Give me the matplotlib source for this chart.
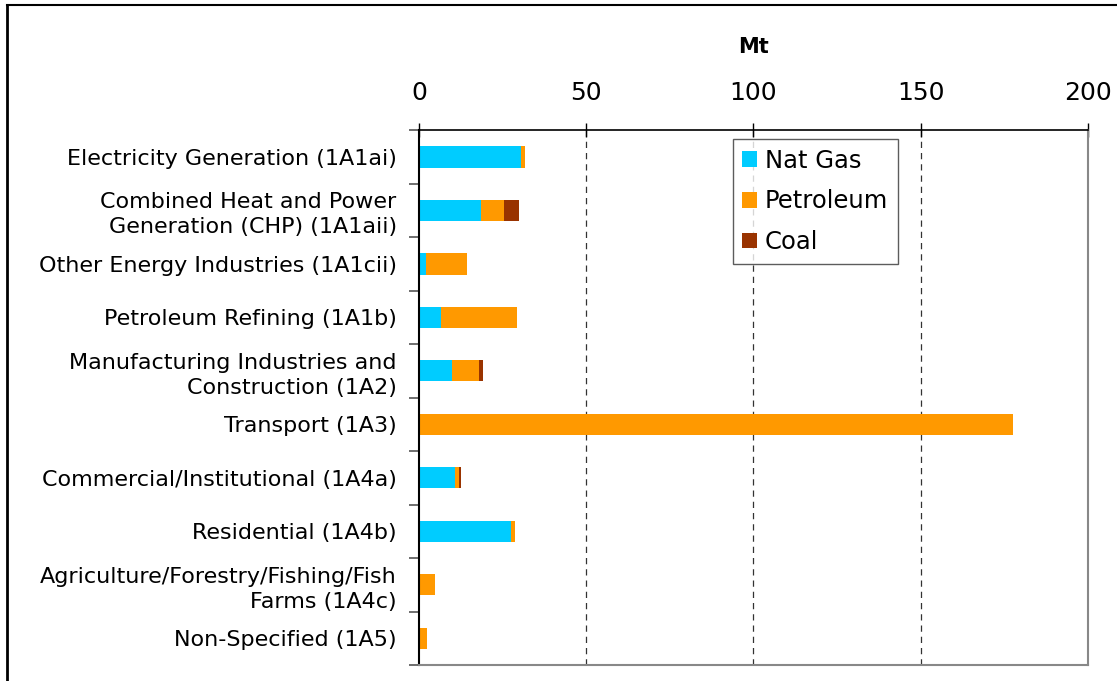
import numpy as np
import matplotlib
matplotlib.use("Agg")
import matplotlib.pyplot as plt
from matplotlib.lines import Line2D

categories = [
    "Electricity Generation (1A1ai)",
    "Combined Heat and Power\nGeneration (CHP) (1A1aii)",
    "Other Energy Industries (1A1cii)",
    "Petroleum Refining (1A1b)",
    "Manufacturing Industries and\nConstruction (1A2)",
    "Transport (1A3)",
    "Commercial/Institutional (1A4a)",
    "Residential (1A4b)",
    "Agriculture/Forestry/Fishing/Fish\nFarms (1A4c)",
    "Non-Specified (1A5)",
]
nat_gas = [30.5, 18.5, 2.0, 6.6, 9.9, 0.0, 10.8, 27.5, 0.0, 0.0]
petroleum = [1.2, 6.9, 12.3, 22.7, 8.0, 177.6, 1.2, 1.2, 4.8, 2.4]
coal = [0.0, 4.5, 0.0, 0.0, 1.2, 0.0, 0.6, 0.0, 0.0, 0.0]
x_ticks = [0, 50, 100, 150, 200]

colors = {"Nat Gas": "#00CCFF", "Petroleum": "#FF9900", "Coal": "#993300"}


def main():
    fig = plt.figure(figsize=(11.17, 6.81), dpi=100)
    ax = fig.add_axes([0.375, 0.0235, 0.599, 0.7855])

    y = np.arange(len(categories))
    gas = np.array(nat_gas)
    pet = np.array(petroleum)
    cl = np.array(coal)
    h = 0.4
    ax.barh(y, gas, height=h, color=colors["Nat Gas"], label="Nat Gas")
    ax.barh(y, pet, left=gas, height=h, color=colors["Petroleum"], label="Petroleum")
    ax.barh(y, cl, left=gas + pet, height=h, color=colors["Coal"], label="Coal")

    ax.set_xlim(0, 200)
    ax.set_ylim(len(categories) - 0.5, -0.5)

    ax.xaxis.tick_top()
    ax.xaxis.set_label_position("top")
    ax.set_xticks(x_ticks)
    ax.set_xticklabels([str(t) for t in x_ticks], fontsize=18)
    ax.tick_params(axis="x", direction="inout", length=10, width=1, pad=13)
    ax.set_xlabel("Mt", fontsize=15, fontweight="bold", labelpad=20)

    for t in x_ticks[1:-1]:
        ax.axvline(t, color="#333333", linestyle=(0, (5, 4)), linewidth=0.9, zorder=0)

    ax.set_yticks(y)
    ax.set_yticklabels(categories, fontsize=16, linespacing=1.3)
    ax.tick_params(axis="y", length=0, pad=16)
    ax.set_yticks(np.arange(len(categories) + 1) - 0.5, minor=True)
    ax.tick_params(axis="y", which="minor", direction="out", length=7, width=1.2, color="#555555")

    ax.spines["top"].set_color("black")
    ax.spines["top"].set_linewidth(1.2)
    ax.spines["left"].set_color("black")
    ax.spines["left"].set_linewidth(1.5)
    ax.spines["bottom"].set_color("#888888")
    ax.spines["bottom"].set_linewidth(1.5)
    ax.spines["right"].set_color("#888888")
    ax.spines["right"].set_linewidth(1.5)

    leg = ax.legend(loc="upper left", bbox_to_anchor=(0.469, 0.983), fontsize=17.5,
                    frameon=True, fancybox=False, edgecolor="#333333",
                    handlelength=0.62, handleheight=0.62, handletextpad=0.3,
                    borderpad=0.4, labelspacing=0.68, borderaxespad=0)
    leg.get_frame().set_linewidth(1.0)

    # outer chart frame (left and top edges visible)
    fig.add_artist(Line2D([7 / 1117, 7 / 1117], [0, 1 - 5 / 681],
                          transform=fig.transFigure, color="black", linewidth=2))
    fig.add_artist(Line2D([7 / 1117, 1], [1 - 5 / 681, 1 - 5 / 681],
                          transform=fig.transFigure, color="black", linewidth=1.5))

    fig.savefig("out.png", dpi=100)
    plt.close(fig)


if __name__ == "__main__":
    main()
